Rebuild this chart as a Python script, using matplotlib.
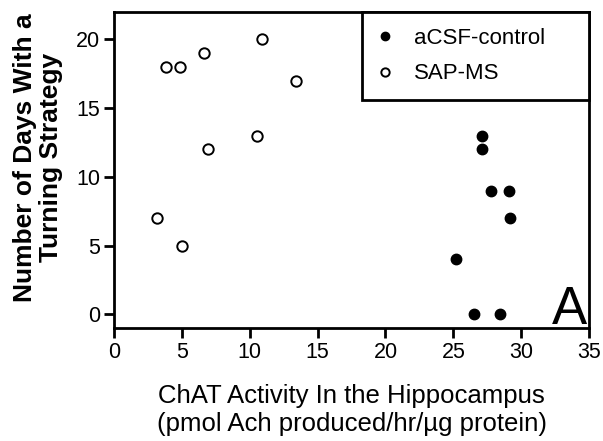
import matplotlib
matplotlib.use('Agg')
import matplotlib.pyplot as plt

plt.rcParams['font.family'] = ['Liberation Sans', 'DejaVu Sans']

# aCSF-control (filled)
ctrl_x = [27.1, 27.1, 27.8, 29.1, 29.2, 25.2, 26.5, 28.4]
ctrl_y = [13, 12, 9, 9, 7, 4, 0, 0]

# SAP-MS (open)
sap_x = [3.8, 4.9, 6.6, 10.9, 13.4, 10.5, 6.9, 3.2, 5.0]
sap_y = [18, 18, 19, 20, 17, 13, 12, 7, 5]

x_ticks = [0, 5, 10, 15, 20, 25, 30, 35]
y_ticks = [0, 5, 10, 15, 20]

fig = plt.figure(figsize=(6.03, 4.41), dpi=100)
ax = fig.add_axes([0.189, 0.256, 0.788, 0.717])

ax.plot(ctrl_x, ctrl_y, 'o', color='black', markersize=7.5, label='aCSF-control')
ax.plot(sap_x, sap_y, 'o', markerfacecolor='white', markeredgecolor='black',
        markeredgewidth=1.4, markersize=7.5, label='SAP-MS')

ax.set_xlim(0, 35)
ax.set_ylim(-1, 22)
ax.set_xticks(x_ticks)
ax.set_yticks(y_ticks)
ax.tick_params(axis='both', direction='out', length=7, width=2, labelsize=15.5, pad=3)

for s in ax.spines.values():
    s.set_linewidth(2)

ax.set_xlabel('ChAT Activity In the Hippocampus\n(pmol Ach produced/hr/µg protein)',
              fontsize=18.5, linespacing=1.2, labelpad=15)
ax.set_ylabel('Number of Days With a\nTurning Strategy', fontsize=19,
              fontweight='bold', linespacing=1.1)
ax.yaxis.set_label_coords(-0.107, 0.54)

leg = ax.legend(loc='upper left', bbox_to_anchor=(0.522, 0.0, 0.478, 1.0), mode='expand',
                fontsize=16, frameon=True, fancybox=False, borderaxespad=0,
                borderpad=0.72, labelspacing=0.65, handlelength=0.64, handletextpad=1.0,
                markerscale=0.8)
leg.get_frame().set_edgecolor('black')
leg.get_frame().set_linewidth(2)
leg.get_frame().set_alpha(1)

ax.text(0.995, 0.012, 'A', transform=ax.transAxes, ha='right', va='baseline', fontsize=38)

fig.savefig('out.png', dpi=100)
